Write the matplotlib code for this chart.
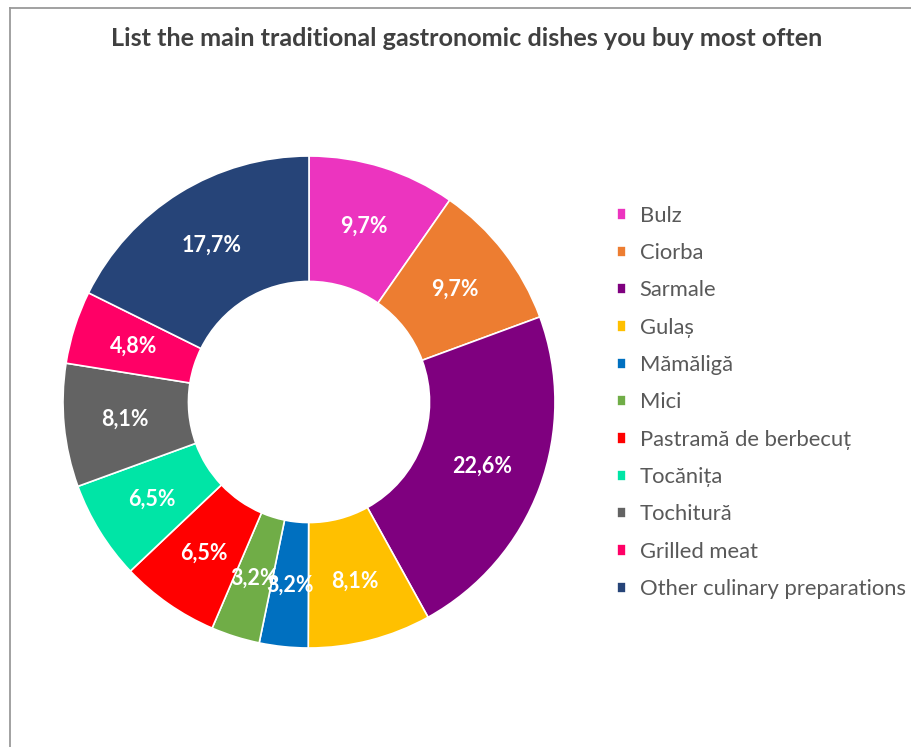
import numpy as np
import matplotlib.pyplot as plt
from matplotlib.lines import Line2D

plt.rcParams['font.family'] = ['Lato', 'DejaVu Sans']

title = "List the main traditional gastronomic dishes you buy most often"
dishes = ["Bulz", "Ciorba", "Sarmale", "Gulaș", "Mămăligă", "Mici",
          "Pastramă de berbecuț", "Tocănița", "Tochitură", "Grilled meat",
          "Other culinary preparations"]
shares = [9.7, 9.7, 22.6, 8.1, 3.2, 3.2, 6.5, 6.5, 8.1, 4.8, 17.7]
colors = ["#EC34BF", "#ED7D31", "#7F007F", "#FFC000", "#0070C0", "#70AD47",
          "#FF0000", "#00E5A6", "#636363", "#FF0066", "#264478"]

W, H = 911, 747
fig = plt.figure(figsize=(W / 100, H / 100), dpi=100)

# chart frame (left and top edges visible)
fig.add_artist(Line2D([10 / W, 10 / W], [0, 1 - 8 / H], color="#9a9a9a", lw=1.3))
fig.add_artist(Line2D([10 / W, 1], [1 - 8 / H, 1 - 8 / H], color="#9a9a9a", lw=1.3))

cx, cy, r = 309, 402, 246
ax = fig.add_axes([(cx - r) / W, 1 - (cy + r) / H, 2 * r / W, 2 * r / H])

wedges, _ = ax.pie(shares, colors=colors, startangle=90, counterclock=False,
                   radius=1, wedgeprops=dict(width=0.51, edgecolor="white", linewidth=1.2))
ax.set_xlim(-1, 1)
ax.set_ylim(-1, 1)
ax.set_aspect("equal")
ax.axis("off")

# value labels in the middle of the ring
total = sum(shares)
cum = 0
for v in shares:
    mid = (cum + v / 2) / total * 2 * np.pi
    cum += v
    ax.text(0.75 * np.sin(mid), 0.75 * np.cos(mid), f"{v:.1f}%".replace(".", ","),
            ha="center", va="center", color="white", fontsize=15.5, fontweight="bold")

fig.text(467 / W, 1 - 38 / H, title, ha="center", va="center",
         fontsize=18.2, fontweight="bold", color="#404040")

fig.legend(wedges, dishes, loc="upper left", bbox_to_anchor=(597 / W, 1 - 186 / H),
           frameon=False, fontsize=15.8, labelcolor="#595959",
           handlelength=0.42, handleheight=0.42, handletextpad=0.63, labelspacing=0.79)

fig.savefig("out.png", dpi=100)
